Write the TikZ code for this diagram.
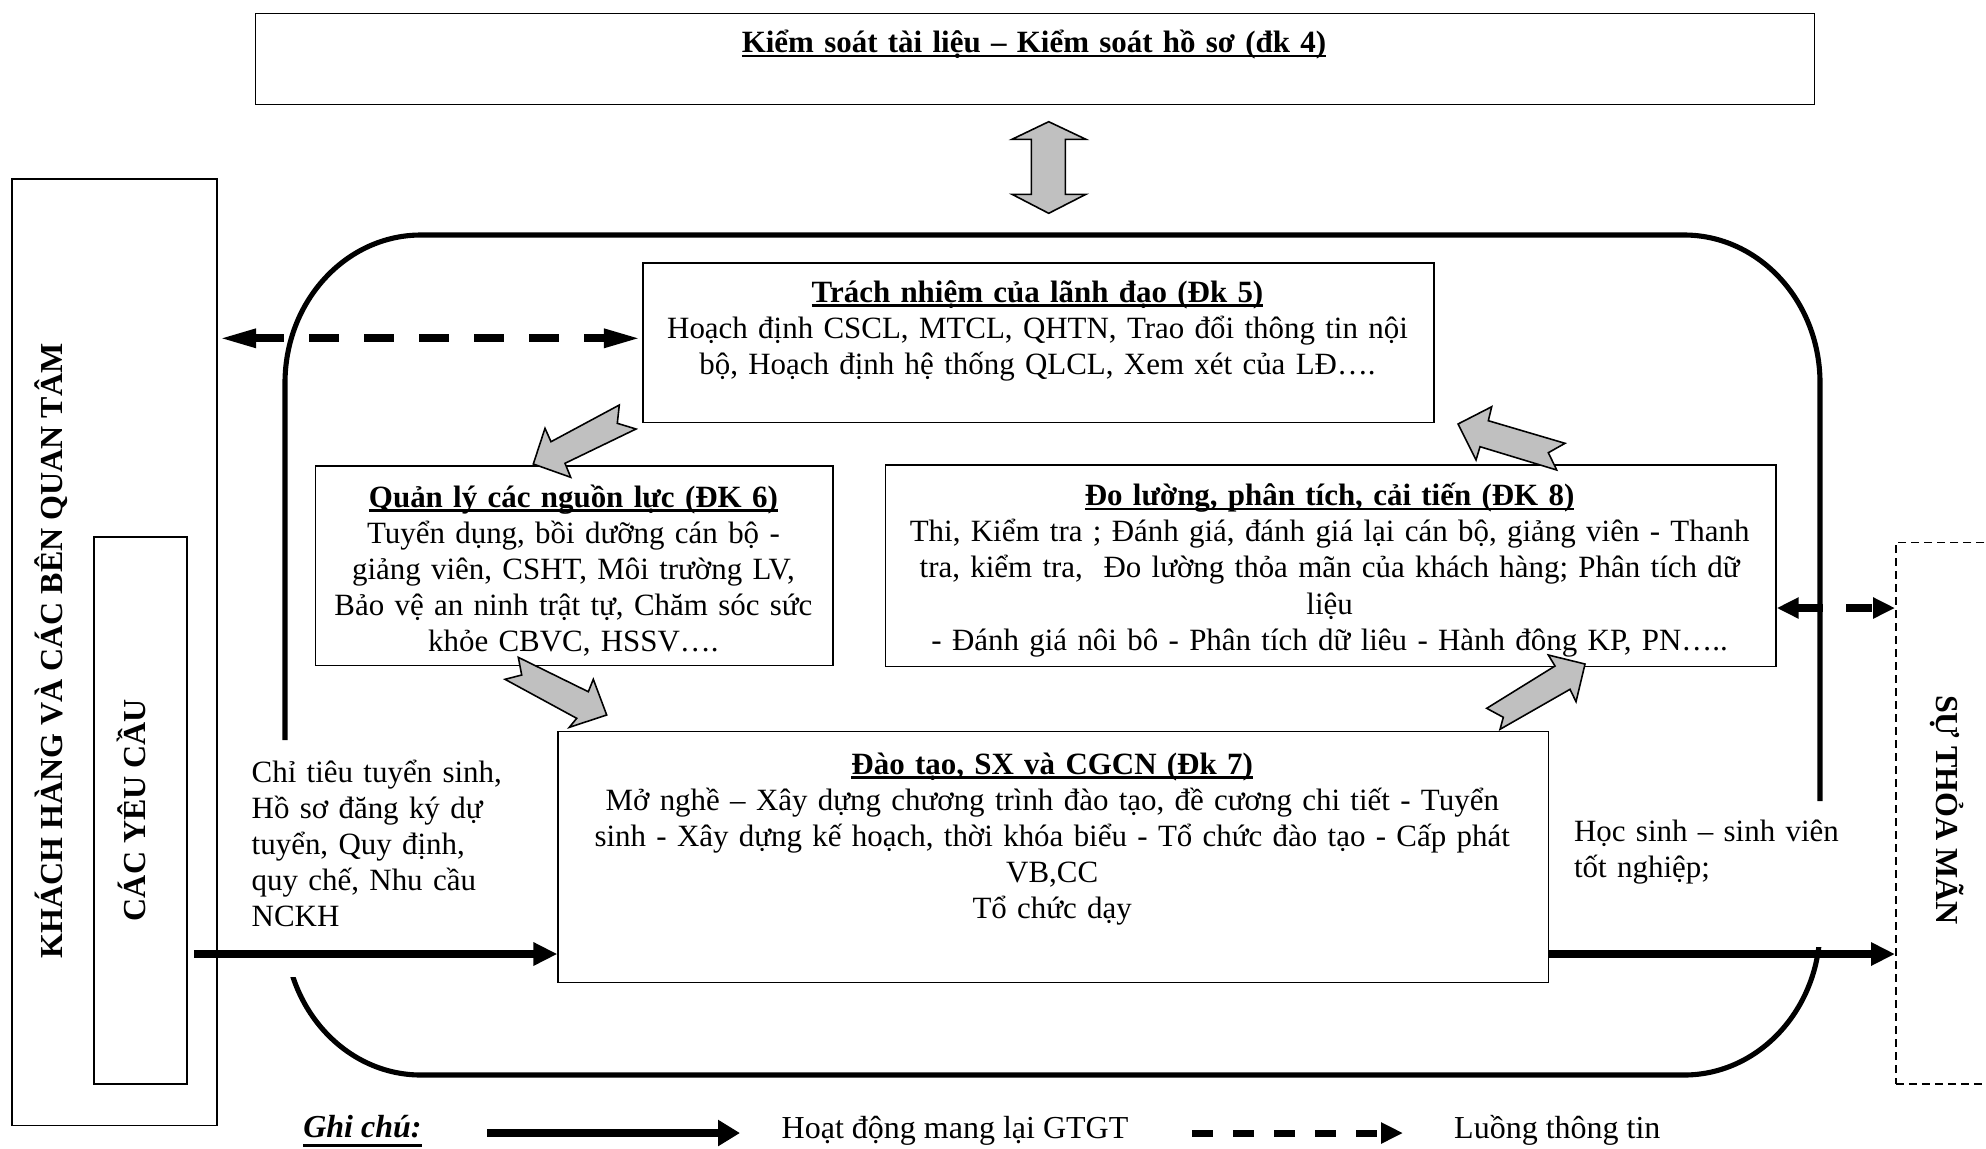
\documentclass[tikz,border=0pt]{standalone}
\usepackage{fontspec}
\setmainfont{Liberation Serif}
\usetikzlibrary{arrows.meta}
\definecolor{arrowgray}{RGB}{192,192,192}
% underlined headings with a rule close to the baseline
\newsavebox\ulinebox
\newcommand\ulined[1]{\sbox\ulinebox{#1}\rlap{\rule[-0.16em]{\wd\ulinebox}{0.085em}}\usebox\ulinebox}
\newcommand\ulinedlow[1]{\sbox\ulinebox{#1}\rlap{\rule[-0.30em]{\wd\ulinebox}{0.09em}}\usebox\ulinebox}

\begin{document}
\begin{tikzpicture}[x=0.01cm, y=-0.01cm,
  every node/.style={font=\fontsize{9.1pt}{10.3pt}\selectfont, inner sep=0pt},
  boxfont/.style={font=\fontsize{8.8pt}{10.3pt}\selectfont},
  box/.style={draw, line width=0.45pt, anchor=north west},
  dashbox/.style={draw, line width=0.45pt, anchor=north west, dash pattern=on 0.08cm off 0.05cm},
  txt/.style={boxfont, anchor=base, align=center},
  lefttxt/.style={boxfont, anchor=base west, align=left},
  loopline/.style={line width=1.45pt},
  flow/.style={line width=2.1pt, -{Triangle[length=0.24cm,width=0.22cm]}},
  legflow/.style={line width=2.35pt, -{Triangle[length=0.22cm,width=0.25cm]}},
  info/.style={line width=2.3pt, {Triangle[length=0.38cm,width=0.17cm]}-{Triangle[length=0.38cm,width=0.17cm]}, dash pattern=on 0.30cm off 0.25cm},
  infoshort/.style={line width=2.5pt, {Triangle[length=0.22cm,width=0.20cm]}-{Triangle[length=0.22cm,width=0.20cm]}, dash pattern=on 0.26cm off 0.23cm},
  leginfo/.style={line width=2.0pt, -{Triangle[length=0.22cm,width=0.20cm]}, dash pattern=on 0.21cm off 0.20cm},
  blockarrow/.style={draw, fill=arrowgray, line width=0.45pt, line join=miter},
]
\useasboundingbox (0,0) rectangle (1986,1148);

% ---- boxes ----
\node[box, minimum width=15.583cm, minimum height=0.912cm] (ks) at (254.5,12.5) {};
\node[box, minimum width=2.053cm, minimum height=9.46cm] (kh) at (11,178) {};
\node[box, minimum width=0.929cm, minimum height=5.47cm] (yc) at (93.3,536) {};
\node[dashbox, minimum width=1.05cm, minimum height=5.414cm] (sat) at (1895,541.6) {};
\node[box, minimum width=7.91cm, minimum height=1.597cm] (tn) at (642,262) {};
\node[box, minimum width=5.173cm, minimum height=1.997cm] (ql) at (314.7,465) {};
\node[box, minimum width=8.90cm, minimum height=2.017cm] (dl) at (884.6,464) {};
\node[box, minimum width=9.896cm, minimum height=2.51cm] (dt) at (557.4,730.7) {};

% ---- process loop (open where the main flow passes) ----
\begin{scope}
  \clip (0,0) rectangle (1100,740) (0,977) rectangle (1100,1148)
        (1000,0) rectangle (1986,801) (1000,947) rectangle (1986,1148);
  \draw[loopline] (285,383) .. controls (285,301.3) and (345.9,235) .. (421,235)
     -- (1684,235) .. controls (1759.1,235) and (1820,301.3) .. (1820,383)
     -- (1820,927) .. controls (1820,1008.7) and (1759.1,1075) .. (1684,1075)
     -- (421,1075) .. controls (345.9,1075) and (285,1008.7) .. (285,927) -- cycle;
\end{scope}

% ---- texts ----
\node[txt, text width=15cm] (kst) at (1034,52.5)
  {{\bfseries\ulined{Kiểm soát tài liệu – Kiểm soát hồ sơ (đk 4)}}};
\node[rotate=90, anchor=base] (kht) at (62.5,651) {\bfseries KHÁCH HÀNG VÀ CÁC BÊN QUAN TÂM};
\node[rotate=90, anchor=base] (yct) at (145,810) {\bfseries CÁC YÊU CẦU};
\node[rotate=-90, anchor=base] (satt) at (1936.5,810) {\bfseries SỰ THỎA MÃN};

\node[txt, text width=7.9cm] (tnt) at (1037.5,302)
  {{\bfseries\ulined{Trách nhiệm của lãnh đạo (Đk 5)}}\\
   Hoạch định CSCL, MTCL, QHTN, Trao đổi thông tin nội\\
   bộ, Hoạch định hệ thống QLCL, Xem xét của LĐ….};

\begin{scope}
  \clip (300,465) rectangle (840,655);
  \node[txt, text width=5.4cm] (qlt) at (573.4,507)
    {{\bfseries\ulined{Quản lý các nguồn lực (ĐK 6)}}\\
     Tuyển dụng, bồi dưỡng cán bộ -\\
     giảng viên, CSHT, Môi trường LV,\\
     Bảo vệ an ninh trật tự, Chăm sóc sức\\
     khỏe CBVC, HSSV….};
\end{scope}

\begin{scope}
  \clip (880,464) rectangle (1780,656);
  \node[txt, text width=8.9cm] (dlt) at (1329.6,505.5)
    {{\bfseries\ulined{Đo lường, phân tích, cải tiến (ĐK 8)}}\\
     Thi, Kiểm tra ; Đánh giá, đánh giá lại cán bộ, giảng viên - Thanh\\
     tra, kiểm tra,\ \ Đo lường thỏa mãn của khách hàng; Phân tích dữ\\
     liệu\\
     - Đánh giá nôi bô - Phân tích dữ liêu - Hành đông KP, PN…..};
\end{scope}

\node[txt, text width=9.8cm] (dtt) at (1052.2,774)
  {{\bfseries\ulined{Đào tạo, SX và CGCN (Đk 7)}}\\
   Mở nghề – Xây dựng chương trình đào tạo, đề cương chi tiết - Tuyển\\
   sinh - Xây dựng kế hoạch, thời khóa biểu - Tổ chức đào tạo - Cấp phát\\
   VB,CC\\
   Tổ chức dạy};

\node[lefttxt, text width=4cm] (inlbl) at (251,782)
  {Chỉ tiêu tuyển sinh,\\ Hồ sơ đăng ký dự\\ tuyển, Quy định,\\ quy chế, Nhu cầu\\ NCKH};
\node[lefttxt, text width=3.5cm] (outlbl) at (1573.4,841.5)
  {Học sinh – sinh viên\\ tốt nghiệp;};

% ---- main value-adding flow ----
\coordinate (inS) at (194,954);
\draw[flow] (inS) -- (inS -| dt.west);
\draw[flow] (inS -| dt.east) -- (inS -| sat.west);

% ---- information flows ----
\coordinate (ia) at (400,338.3);
\draw[info] (ia -| kh.east) -- (ia -| tn.west);
\coordinate (ib) at (1800,608);
\draw[infoshort] (ib -| dl.east) -- (ib -| sat.west);

% ---- grey block arrows ----
\draw[blockarrow] (1048.7,121.7) -- (1085.9,139.3) -- (1065.3,139.3) -- (1065.3,194.3)
  -- (1085.9,194.3) -- (1048.7,213.3) -- (1012,194.3) -- (1031.3,194.3)
  -- (1031.3,139.3) -- (1012,139.3) -- cycle;
\draw[blockarrow] (533.3,464) -- (545,428.3) -- (551,441.7) -- (619.3,405)
  -- (617.3,423.3) -- (636,429) -- (565,463.3) -- (570.7,477.3) -- cycle;
\draw[blockarrow] (518.3,657.3) -- (588.3,691.7) -- (593.3,679.3) -- (606.7,715)
  -- (569.3,727.3) -- (576.7,718.3) -- (505,679.3) -- (521.7,675) -- cycle;
\draw[blockarrow] (1486.7,708.3) -- (1555,666) -- (1548.3,655) -- (1585,664)
  -- (1576,701.7) -- (1570,689.3) -- (1500,729.3) -- (1503.3,717.3) -- cycle;
\draw[blockarrow] (1458,424) -- (1491.7,406.7) -- (1488.3,420.7) -- (1565,443.3)
  -- (1548.3,452.7) -- (1556.7,470) -- (1480,446.7) -- (1476,460) -- cycle;

% ---- legend ----
\node[anchor=base west] (gc) at (302.6,1137) {\bfseries\itshape\ulinedlow{Ghi chú:}};
\coordinate (lgA) at (487,1133);
\coordinate (lgB) at (740,1133);
\draw[legflow] (lgA) -- (lgB);
\node[anchor=base west] (lgt1) at (781,1138) {Hoạt động mang lại GTGT};
\coordinate (lgC) at (1192,1133);
\coordinate (lgD) at (1403,1133);
\draw[leginfo] (lgC) -- (lgD);
\node[anchor=base west] (lgt2) at (1453.5,1138) {Luồng thông tin};
\end{tikzpicture}
\end{document}
